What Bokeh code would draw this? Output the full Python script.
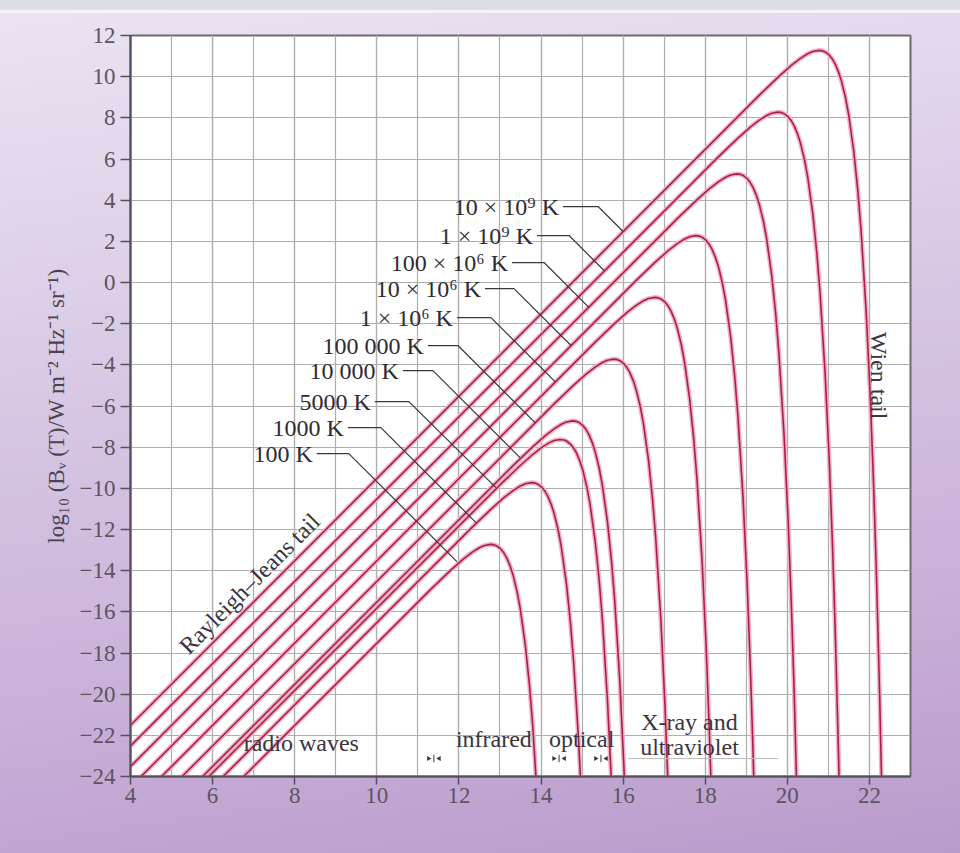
import math
from bokeh.plotting import figure
from bokeh.models import FixedTicker, Label, Range1d
from bokeh.embed import file_html
from bokeh.resources import INLINE

# ---------------- data ----------------
x_tick_values = [4, 6, 8, 10, 12, 14, 16, 18, 20, 22]
x_tick_labels = ["4", "6", "8", "10", "12", "14", "16", "18", "20", "22"]
x_grid_values = [4, 5, 6, 7, 8, 9, 10, 11, 12, 13, 14, 15, 16, 17, 18, 19, 20, 21, 22, 23]
y_tick_values = [12, 10, 8, 6, 4, 2, 0, -2, -4, -6, -8, -10, -12, -14, -16, -18, -20, -22, -24]
y_tick_labels = ["12", "10", "8", "6", "4", "2", "0", "\u22122", "\u22124", "\u22126", "\u22128",
                 "\u221210", "\u221212", "\u221214", "\u221216", "\u221218", "\u221220", "\u221222", "\u221224"]

temperature_labels = ["100 K", "1000 K", "5000 K", "10 000 K", "100 000 K",
                      "1 \u00d7 10\u2076 K", "10 \u00d7 10\u2076 K", "100 \u00d7 10\u2076 K",
                      "1 \u00d7 10\u2079 K", "10 \u00d7 10\u2079 K"]

T100_x = [6.756, 11.319, 11.796, 12.097, 12.319, 12.495, 12.620, 12.769, 12.863, 12.921, 13.018, 13.097, 13.164, 13.248, 13.319, 13.416, 13.495, 13.620, 13.717, 13.796, 13.921]
T100_y = [-24.0, -14.896, -13.987, -13.454, -13.109, -12.888, -12.776, -12.721, -12.748, -12.797, -12.946, -13.144, -13.378, -13.777, -14.217, -15.012, -15.860, -17.657, -19.538, -21.471, -25.440]

T1000_x = [6.256, 12.319, 12.796, 13.097, 13.319, 13.495, 13.620, 13.769, 13.863, 13.921, 14.018, 14.097, 14.164, 14.248, 14.319, 14.416, 14.495, 14.620, 14.717, 14.796, 14.921, 15.018]
T1000_y = [-24.0, -11.896, -10.987, -10.454, -10.109, -9.888, -9.776, -9.721, -9.748, -9.797, -9.946, -10.144, -10.378, -10.777, -11.217, -12.012, -12.860, -14.657, -16.538, -18.471, -22.440, -26.492]

T5000_x = [5.907, 13.018, 13.495, 13.796, 14.018, 14.194, 14.319, 14.468, 14.562, 14.620, 14.717, 14.796, 14.863, 14.947, 15.018, 15.115, 15.194, 15.319, 15.416, 15.495, 15.620, 15.717]
T5000_y = [-24.0, -9.799, -8.890, -8.357, -8.012, -7.791, -7.679, -7.624, -7.651, -7.700, -7.849, -8.047, -8.281, -8.680, -9.120, -9.915, -10.763, -12.560, -14.441, -16.374, -20.343, -24.395]

T10000_x = [5.756, 13.319, 13.796, 14.097, 14.319, 14.495, 14.620, 14.769, 14.863, 14.921, 15.018, 15.097, 15.164, 15.248, 15.319, 15.416, 15.495, 15.620, 15.717, 15.796, 15.921, 16.018, 16.097]
T10000_y = [-24.0, -8.896, -7.987, -7.454, -7.109, -6.888, -6.776, -6.721, -6.748, -6.797, -6.946, -7.144, -7.378, -7.777, -8.217, -9.012, -9.860, -11.657, -13.538, -15.471, -19.440, -23.492, -27.597]

T1e5_x = [5.256, 14.319, 14.796, 15.097, 15.319, 15.495, 15.620, 15.769, 15.863, 15.921, 16.018, 16.097, 16.164, 16.248, 16.319, 16.416, 16.495, 16.620, 16.717, 16.796, 16.921, 17.018, 17.097]
T1e5_y = [-24.0, -5.896, -4.987, -4.454, -4.109, -3.888, -3.776, -3.721, -3.748, -3.797, -3.946, -4.144, -4.378, -4.777, -5.217, -6.012, -6.860, -8.657, -10.538, -12.471, -16.440, -20.492, -24.597]

T1e6_x = [4.756, 15.319, 15.796, 16.097, 16.319, 16.495, 16.620, 16.769, 16.863, 16.921, 17.018, 17.097, 17.164, 17.248, 17.319, 17.416, 17.495, 17.620, 17.717, 17.796, 17.921, 18.018, 18.097, 18.164]
T1e6_y = [-24.0, -2.896, -1.987, -1.454, -1.109, -0.888, -0.776, -0.721, -0.748, -0.797, -0.946, -1.144, -1.378, -1.777, -2.217, -3.012, -3.860, -5.657, -7.538, -9.471, -13.440, -17.492, -21.597, -25.739]

T1e7_x = [4.256, 16.319, 16.796, 17.097, 17.319, 17.495, 17.620, 17.769, 17.863, 17.921, 18.018, 18.097, 18.164, 18.248, 18.319, 18.416, 18.495, 18.620, 18.717, 18.796, 18.921, 19.018, 19.097, 19.164, 19.248]
T1e7_y = [-24.0, 0.104, 1.013, 1.546, 1.891, 2.112, 2.224, 2.279, 2.252, 2.203, 2.054, 1.856, 1.622, 1.223, 0.783, -0.012, -0.860, -2.657, -4.538, -6.471, -10.440, -14.492, -18.597, -22.739, -29.001]

T1e8_x = [4.0, 17.319, 17.796, 18.097, 18.319, 18.495, 18.620, 18.769, 18.863, 18.921, 19.018, 19.097, 19.164, 19.248, 19.319, 19.416, 19.495, 19.620, 19.717, 19.796, 19.921, 20.018, 20.097, 20.164, 20.248]
T1e8_y = [-23.513, 3.104, 4.013, 4.546, 4.891, 5.112, 5.224, 5.279, 5.252, 5.203, 5.054, 4.856, 4.622, 4.223, 3.783, 2.988, 2.140, 0.343, -1.538, -3.471, -7.440, -11.492, -15.597, -19.739, -26.001]

T1e9_x = [4.0, 18.319, 18.796, 19.097, 19.319, 19.495, 19.620, 19.769, 19.863, 19.921, 20.018, 20.097, 20.164, 20.248, 20.319, 20.416, 20.495, 20.620, 20.717, 20.796, 20.921, 21.018, 21.097, 21.164, 21.248, 21.319]
T1e9_y = [-22.513, 6.104, 7.013, 7.546, 7.891, 8.112, 8.224, 8.279, 8.252, 8.203, 8.054, 7.856, 7.622, 7.223, 6.783, 5.988, 5.140, 3.343, 1.462, -0.471, -4.440, -8.492, -12.597, -16.739, -23.001, -29.303]

T1e10_x = [4.0, 19.319, 19.796, 20.097, 20.319, 20.495, 20.620, 20.769, 20.863, 20.921, 21.018, 21.097, 21.164, 21.248, 21.319, 21.416, 21.495, 21.620, 21.717, 21.796, 21.921, 22.018, 22.097, 22.164, 22.248, 22.319]
T1e10_y = [-21.513, 9.104, 10.013, 10.546, 10.891, 11.112, 11.224, 11.279, 11.252, 11.203, 11.054, 10.856, 10.622, 10.223, 9.783, 8.988, 8.140, 6.343, 4.462, 2.529, -1.440, -5.492, -9.597, -13.739, -20.001, -26.303]

curves_x = [T100_x, T1000_x, T5000_x, T10000_x, T1e5_x, T1e6_x, T1e7_x, T1e8_x, T1e9_x, T1e10_x]
curves_y = [T100_y, T1000_y, T5000_y, T10000_y, T1e5_y, T1e6_y, T1e7_y, T1e8_y, T1e9_y, T1e10_y]

band_boundaries = [11.39, 14.44, 15.46]

# ---------------- figure ----------------
SERIF = "Liberation Serif"

p = figure(frame_width=780, frame_height=741,
           min_border_left=130, min_border_right=50, min_border_top=35, min_border_bottom=77,
           x_range=Range1d(4, 23), y_range=Range1d(-24, 12),
           output_backend="svg", toolbar_location=None)

p.styles = {"background": "linear-gradient(to bottom, #dcdfe4 0px, #dcdfe4 10px, #f6f4f8 10px, "
                          "#f6f4f8 13px, rgba(0,0,0,0) 13px), "
                          "linear-gradient(172deg, #ebe3f2 0%, #ddd0e8 30%, #ccb6db 65%, #b99bcb 100%)"}
p.border_fill_color = None
p.background_fill_color = "white"
p.outline_line_color = "#6e6a72"
p.outline_line_width = 2

# grid
p.xgrid.ticker = FixedTicker(ticks=x_tick_values, minor_ticks=x_grid_values)
p.xgrid.grid_line_color = "#aeaeae"
p.xgrid.minor_grid_line_color = "#aeaeae"
p.xgrid.grid_line_width = 1.2
p.xgrid.minor_grid_line_width = 1.2
p.ygrid.ticker = FixedTicker(ticks=y_tick_values)
p.ygrid.grid_line_color = "#aeaeae"
p.ygrid.grid_line_width = 1.2

# axes
p.xaxis.ticker = FixedTicker(ticks=x_tick_values)
p.yaxis.ticker = FixedTicker(ticks=y_tick_values)
p.xaxis.major_label_overrides = dict(zip(x_tick_values, x_tick_labels))
p.yaxis.major_label_overrides = dict(zip(y_tick_values, y_tick_labels))
for ax in (p.xaxis[0], p.yaxis[0]):
    ax.axis_line_color = "#55505a"
    ax.axis_line_width = 2
    ax.major_tick_line_color = "#55505a"
    ax.major_tick_line_width = 1.5
    ax.major_tick_in = 0
    ax.minor_tick_line_color = None
    ax.major_label_text_font = SERIF
    ax.major_label_text_color = "#5d5462"
    ax.major_label_text_font_size = "23px"
    ax.axis_label_text_font = SERIF
    ax.axis_label_text_font_style = "normal"
    ax.axis_label_text_color = "#4a4450"
    ax.axis_label_text_font_size = "23px"
p.yaxis.major_tick_out = 10
p.yaxis.major_label_standoff = 5
p.xaxis.major_tick_out = 8
p.xaxis.major_label_standoff = 3
p.yaxis.axis_label = "log\u2081\u2080 (B\u1d65 (T)/W m\u207b\u00b2 Hz\u207b\u00b9 sr\u207b\u00b9)"
p.yaxis.axis_label_standoff = 8

# curves: pink halo + dark crimson core
for xs, ys in zip(curves_x, curves_y):
    p.line(xs, ys, line_color="#f3b1c5", line_width=4.6)
for xs, ys in zip(curves_x, curves_y):
    p.line(xs, ys, line_color="#a82247", line_width=1.6)

# temperature labels with leader lines (positions in data units)
label_pos = [  # text right end x, y, leader start x, knee x, end x, end y
    (8.439, -8.311, 8.537, 9.317, 11.951, -13.559),
    (9.195, -7.048, 9.293, 10.098, 12.415, -11.664),
    (9.854, -5.784, 9.951, 10.780, 12.902, -9.963),
    (10.537, -4.278, 10.634, 11.366, 13.488, -8.505),
    (11.146, -3.063, 11.244, 11.976, 13.854, -6.805),
    (11.854, -1.703, 11.951, 12.780, 14.341, -4.813),
    (12.537, -0.294, 12.634, 13.341, 14.732, -3.063),
    (13.195, 0.970, 13.293, 14.073, 15.171, -1.217),
    (13.805, 2.282, 13.902, 14.683, 15.537, 0.581),
    (14.439, 3.691, 14.537, 15.390, 16.000, 2.476),
]
for txt, (tx, ty, sx, kx, ex, ey) in zip(temperature_labels, label_pos):
    p.line([sx, kx, ex], [ty, ty, ey], line_color="#3c383f", line_width=1.2)
    p.add_layout(Label(x=tx, y=ty, text=txt, text_align="right", text_baseline="middle",
                       text_font=SERIF, text_font_size="24px", text_color="#2f2b33"))

# other annotations
ann_font = dict(text_font=SERIF, text_color="#3a3540", text_font_size="24px")
p.add_layout(Label(x=6.90, y=-14.63, text="Rayleigh\u2013Jeans tail", angle=math.pi / 4,
                   text_align="center", text_baseline="middle", **ann_font))
p.add_layout(Label(x=22.244, y=-4.52, text="Wien tail", angle=-math.pi / 2,
                   text_align="center", text_baseline="middle", **ann_font))
p.add_layout(Label(x=6.756, y=-22.35, text="radio waves", text_align="left",
                   text_baseline="middle", **ann_font))
p.add_layout(Label(x=11.927, y=-22.16, text="infrared", text_align="left",
                   text_baseline="middle", **ann_font))
p.add_layout(Label(x=14.195, y=-22.16, text="optical", text_align="left",
                   text_baseline="middle", **ann_font))
p.add_layout(Label(x=16.439, y=-21.33, text="X-ray and", text_align="left",
                   text_baseline="middle", **ann_font))
p.add_layout(Label(x=16.415, y=-22.59, text="ultraviolet", text_align="left",
                   text_baseline="middle", **ann_font))

# band boundary markers: small arrows pointing at a bar
for bx in band_boundaries:
    p.segment(x0=[bx], y0=[-22.95], x1=[bx], y1=[-23.31], line_color="#3a3540", line_width=1)
    p.scatter([bx - 0.13], [-23.13], marker="triangle", angle=-math.pi / 2, size=5,
              fill_color="#3a3540", line_color=None)
    p.scatter([bx + 0.13], [-23.13], marker="triangle", angle=math.pi / 2, size=5,
              fill_color="#3a3540", line_color=None)
p.line([16.12, 19.78], [-23.13, -23.13], line_color="#b9b9b9", line_width=1)

# x-axis title (placed below the frame)
p.add_layout(Label(x=12.73, y=-26.63, text="log\u2081\u2080(\u03bd/Hz)", text_align="center",
                   text_baseline="middle", text_font=SERIF, text_font_size="23px",
                   text_color="#4a4450"))

open("out.html", "w").write(file_html(p, INLINE))
